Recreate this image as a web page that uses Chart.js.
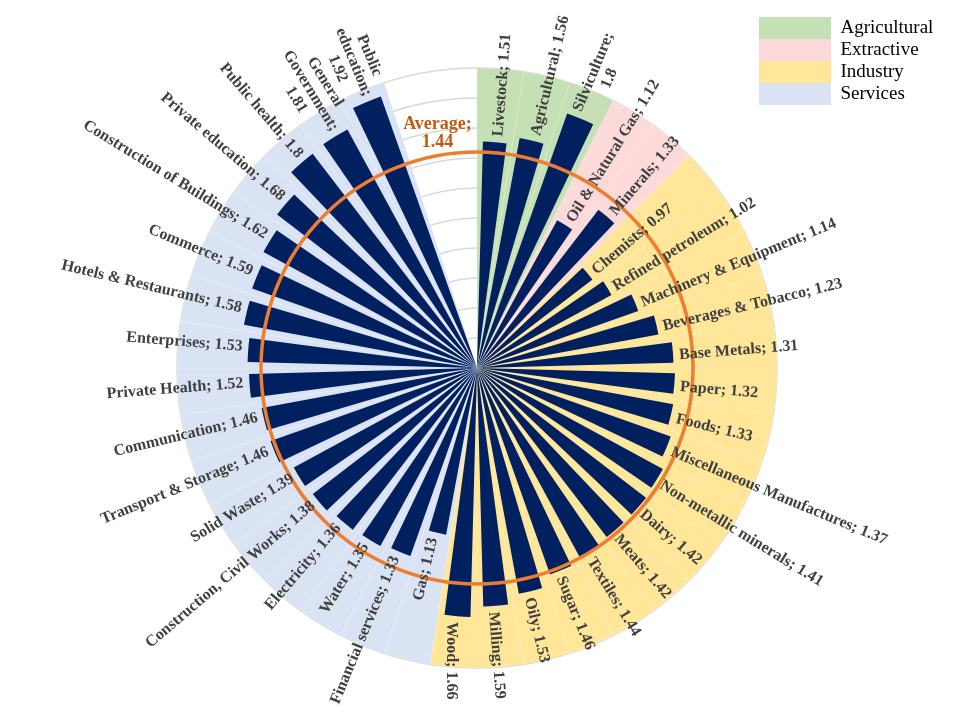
<!DOCTYPE html>
<html>
<head>
<meta charset="utf-8">
<script src="https://cdn.jsdelivr.net/npm/chart.js@4/dist/chart.umd.min.js"></script>
<style>
  html, body { margin: 0; padding: 0; background: #ffffff; }
  #wrap { width: 960px; height: 720px; }
</style>
</head>
<body>
<div id="wrap"><canvas id="c" width="960" height="720"></canvas></div>
<script>
// ---------------- DATA ----------------
const categories = [
  'Livestock', 'Agricultural', 'Silviculture',
  'Oil & Natural Gas', 'Minerals',
  'Chemists', 'Refined petroleum', 'Machinery & Equipment', 'Beverages & Tobacco',
  'Base Metals', 'Paper', 'Foods', 'Miscellaneous Manufactures', 'Non-metallic minerals',
  'Dairy', 'Meats', 'Textiles', 'Sugar', 'Oily', 'Milling', 'Wood',
  'Gas', 'Financial services', 'Water', 'Electricity', 'Construction, Civil Works',
  'Solid Waste', 'Transport & Storage', 'Communication', 'Private Health', 'Enterprises',
  'Hotels & Restaurants', 'Commerce', 'Construction of Buildings', 'Private education',
  'Public health', 'General Government', 'Public education'
];
const values = [
  1.51, 1.56, 1.8,
  1.12, 1.33,
  0.97, 1.02, 1.14, 1.23,
  1.31, 1.32, 1.33, 1.37, 1.41,
  1.42, 1.42, 1.44, 1.46, 1.53, 1.59, 1.66,
  1.13, 1.33, 1.35, 1.36, 1.38,
  1.39, 1.46, 1.46, 1.52, 1.53,
  1.58, 1.59, 1.62, 1.68,
  1.8, 1.81, 1.92
];
const groups = [
  'Agricultural', 'Agricultural', 'Agricultural',
  'Extractive', 'Extractive',
  'Industry', 'Industry', 'Industry', 'Industry', 'Industry', 'Industry', 'Industry', 'Industry',
  'Industry', 'Industry', 'Industry', 'Industry', 'Industry', 'Industry', 'Industry', 'Industry',
  'Services', 'Services', 'Services', 'Services', 'Services', 'Services', 'Services', 'Services',
  'Services', 'Services', 'Services', 'Services', 'Services', 'Services', 'Services', 'Services', 'Services'
];
const groupNames = ['Agricultural', 'Extractive', 'Industry', 'Services'];
const averageValue = 1.44;
const averageLabel = ['Average;', '1.44'];
// labels that are wrapped over several lines in the original
const wrappedLabels = {
  'Silviculture': ['Silviculture;', '1.8'],
  'General Government': ['General', 'Government;', '1.81'],
  'Public education': ['Public', 'education;', '1.92']
};
const emptySlots = 2;          // blank gap at the top of the circle
const axisMax = 2.0;
const axisStep = 0.2;

// ---------------- STYLE ----------------
const groupColors = { 'Agricultural': '#C5E0B4', 'Extractive': '#FDDADA', 'Industry': '#FFE699', 'Services': '#DAE3F3' };
const barColor = '#002060';
const avgColor = '#ED7D31';
const avgTextColor = '#C55A11';
const labelColor = '#404040';
const serif = "'Liberation Serif', 'Times New Roman', serif";

const slotCount = categories.length + emptySlots;
const slotDeg = 360 / slotCount;
const barDeg = slotDeg * 2 / 3;
const gapHalfDeg = (slotDeg - barDeg) / 2;

// bars: each slot = half gap, bar, half gap
const barData = [], barAngles = [], barLabels = [];
for (let s = 0; s < slotCount; s++) {
  const has = s < categories.length;
  barData.push(0, has ? values[s] : 0, 0);
  barAngles.push(gapHalfDeg, barDeg, gapHalfDeg);
  barLabels.push('', has ? categories[s] : '', '');
}
// background sectors per slot
const bgData = [], bgColors = [];
for (let s = 0; s < slotCount; s++) {
  const has = s < categories.length;
  bgData.push(has ? axisMax : 0);
  bgColors.push(has ? groupColors[groups[s]] : 'rgba(0,0,0,0)');
}

function labelLines(i) {
  return wrappedLabels[categories[i]] || [categories[i] + '; ' + values[i]];
}

const overlayPlugin = {
  id: 'overlay',
  afterLayout(chart) {
    const lg = chart.legend;
    if (lg) { lg.left = 759; lg.right = 958; lg.top = 17; lg.bottom = 300; }
  },
  afterDatasetsDraw(chart) {
    const ctx = chart.ctx;
    const sc = chart.scales.r;
    const cx = sc.xCenter, cy = sc.yCenter;
    ctx.save();
    // average circle
    const rAvg = sc.getDistanceFromCenterForValue(averageValue);
    ctx.beginPath();
    ctx.arc(cx, cy, rAvg, 0, Math.PI * 2);
    ctx.strokeStyle = avgColor;
    ctx.lineWidth = 3.5;
    ctx.stroke();

    // average label in the empty gap
    const gapMidDeg = (categories.length + emptySlots / 2) * slotDeg;
    const ga = (gapMidDeg - 90) * Math.PI / 180;
    const rl = sc.getDistanceFromCenterForValue(1.6);
    const ax = cx + Math.cos(ga) * rl, ay = cy + Math.sin(ga) * rl;
    ctx.font = 'bold 18px ' + serif;
    ctx.fillStyle = avgTextColor;
    ctx.textAlign = 'center';
    ctx.textBaseline = 'middle';
    ctx.fillText(averageLabel[0], ax - 2, ay - 7);
    ctx.fillText(averageLabel[1], ax - 2, ay + 11);

    // category labels
    ctx.font = 'bold 16px ' + serif;
    ctx.fillStyle = labelColor;
    const pad = 6, lh = 17, shift = 3;
    for (let i = 0; i < categories.length; i++) {
      const thetaDeg = (i + 0.5) * slotDeg;
      const a = (thetaDeg - 90) * Math.PI / 180;
      const rEnd = sc.getDistanceFromCenterForValue(values[i]);
      const lines = labelLines(i);
      const outward = thetaDeg <= 186;
      const bw = Math.max(...lines.map(l => ctx.measureText(l).width));
      const r0 = rEnd + pad;
      const rc = r0 + bw / 2;
      ctx.save();
      ctx.translate(cx + Math.cos(a) * rc, cy + Math.sin(a) * rc);
      ctx.rotate(outward ? Math.min(a, Math.PI / 2) : a + Math.PI);
      const ys = outward ? shift : -shift;
      lines.forEach((ln, k) => {
        ctx.fillText(ln, 0, ys + (k - (lines.length - 1) / 2) * lh);
      });
      ctx.restore();
    }
    ctx.restore();
  }
};

new Chart(document.getElementById('c'), {
  type: 'polarArea',
  data: {
    labels: barLabels,
    datasets: [
      {
        label: 'Multiplier',
        data: barData,
        backgroundColor: barColor,
        borderWidth: 0,
        angle: (ctx) => barAngles[ctx.dataIndex]
      },
      {
        label: 'Sector',
        data: bgData,
        backgroundColor: bgColors,
        borderColor: 'rgba(255,255,255,0.3)',
        borderWidth: 0.5,
        angle: () => slotDeg
      }
    ]
  },
  options: {
    responsive: false,
    animation: false,
    devicePixelRatio: 1,
    layout: { padding: { left: 177, right: 183, top: 68, bottom: 52 } },
    scales: {
      r: {
        min: 0,
        max: axisMax,
        startAngle: 0,
        ticks: { display: false, stepSize: axisStep },
        grid: { circular: true, color: '#D9D9D9', lineWidth: 1.5 },
        angleLines: { display: false },
        pointLabels: { display: false }
      }
    },
    plugins: {
      tooltip: { enabled: false },
      legend: {
        position: 'chartArea',
        align: 'start',
        labels: {
          boxWidth: 72,
          boxHeight: 22,
          padding: 0,
          color: '#000000',
          font: { family: serif, size: 19 },
          generateLabels: () => groupNames.map((g, k) => ({
            text: g,
            fillStyle: groupColors[g],
            strokeStyle: groupColors[g],
            lineWidth: 0,
            hidden: false,
            index: k
          }))
        }
      }
    }
  },
  plugins: [overlayPlugin]
});
</script>
</body>
</html>
